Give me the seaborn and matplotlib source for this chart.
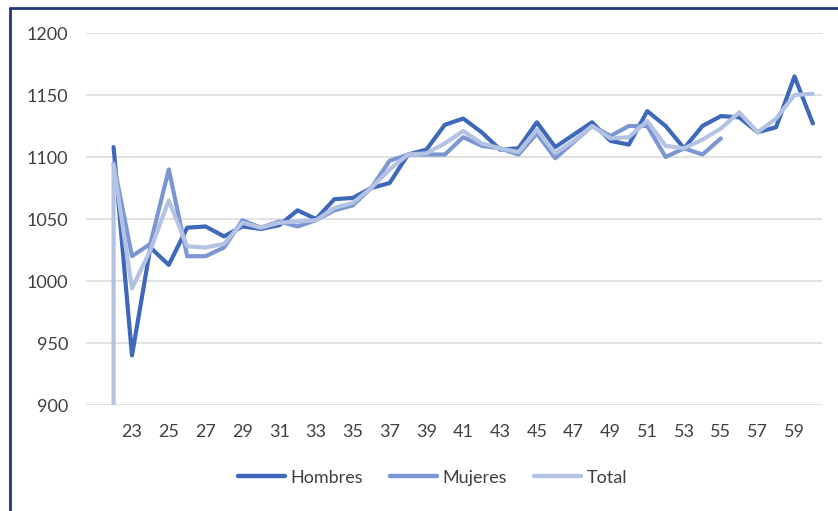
import pandas as pd
import numpy as np
import matplotlib
matplotlib.use("Agg")
import matplotlib.pyplot as plt
import seaborn as sns
from matplotlib.lines import Line2D

# edades (eje x) y valores
edades = list(range(22, 61))
hombres = [1108, 940, 1027, 1013, 1043, 1044, 1036, 1044, 1042, 1045,
           1057, 1050, 1066, 1067, 1075, 1079, 1102, 1106, 1126, 1131,
           1120, 1106, 1107, 1128, 1108, 1118, 1128, 1113, 1110, 1137,
           1125, 1107, 1125, 1133, 1132, 1120, 1124, 1165, 1127]
edades_mujeres = list(range(22, 56))
mujeres = [1095, 1020, 1030, 1090, 1020, 1020, 1027, 1049, 1043, 1048,
           1044, 1049, 1057, 1061, 1075, 1097, 1102, 1102, 1102, 1116,
           1109, 1107, 1102, 1119, 1099, 1112, 1125, 1117, 1125, 1125,
           1100, 1107, 1102, 1115]
# la serie Total arranca con un valor 900 en la misma edad 22
edades_total = [22] + list(range(22, 61))
total = [900, 1094, 994, 1025, 1065, 1028, 1027, 1030, 1047, 1043, 1047,
         1048, 1049, 1059, 1063, 1075, 1090, 1102, 1103, 1111, 1121,
         1111, 1107, 1104, 1122, 1103, 1113, 1125, 1115, 1116, 1129,
         1109, 1107, 1114, 1123, 1136, 1120, 1131, 1150, 1151]
series = ["Hombres", "Mujeres", "Total"]
xticks = list(range(23, 60, 2))
yticks = list(range(900, 1201, 50))

df = pd.concat([
    pd.DataFrame({"edad": edades, "valor": hombres, "serie": "Hombres"}),
    pd.DataFrame({"edad": edades_mujeres, "valor": mujeres, "serie": "Mujeres"}),
    pd.DataFrame({"edad": edades_total, "valor": total, "serie": "Total"}),
], ignore_index=True)

sns.set_style("white")
plt.rcParams["font.family"] = ["Lato", "DejaVu Sans"]

colores = {"Hombres": "#3E68BA", "Mujeres": "#7B96D2", "Total": "#B4C2E3"}

fig = plt.figure(figsize=(8.38, 5.11), dpi=100)
ax = fig.add_axes([0.1026, 0.2074, 0.8784, 0.728])

sns.lineplot(data=df, x="edad", y="valor", hue="serie", hue_order=series,
             palette=colores, estimator=None, sort=False, linewidth=3,
             legend=False, ax=ax)
for ln in ax.lines:
    ln.set_solid_joinstyle("round")
    ln.set_solid_capstyle("round")

ax.set_xlim(20.5, 60.5)
ax.set_ylim(900, 1200)
ax.set_xticks(xticks)
ax.set_yticks(yticks)
ax.set_xticklabels([str(t) for t in xticks])
ax.set_xlabel("")
ax.set_ylabel("")
ax.grid(axis="y", color="#D9D9D9", linewidth=1.1)
ax.grid(axis="x", visible=False)
for s in ax.spines.values():
    s.set_visible(False)
ax.tick_params(axis="both", length=0, labelsize=13, colors="#404040")
ax.tick_params(axis="y", pad=13)
ax.tick_params(axis="x", pad=14)

handles = [Line2D([0], [0], color=colores[s], linewidth=3.2,
                  solid_capstyle="round") for s in series]
fig.legend(handles, series, loc="center", bbox_to_anchor=(0.516, 0.065),
           ncol=3, frameon=False, fontsize=13, handlelength=2.6,
           handletextpad=0.3, columnspacing=1.5, labelcolor="#404040")

# borde del gráfico (solo visible arriba y a la izquierda)
fig.add_artist(Line2D([10 / 838, 10 / 838], [0, 1 - 8 / 511],
                      transform=fig.transFigure, color="#1F3A78", linewidth=2))
fig.add_artist(Line2D([10 / 838, 1], [1 - 8 / 511, 1 - 8 / 511],
                      transform=fig.transFigure, color="#1F3A78", linewidth=2))

fig.savefig("out.png", dpi=100)
